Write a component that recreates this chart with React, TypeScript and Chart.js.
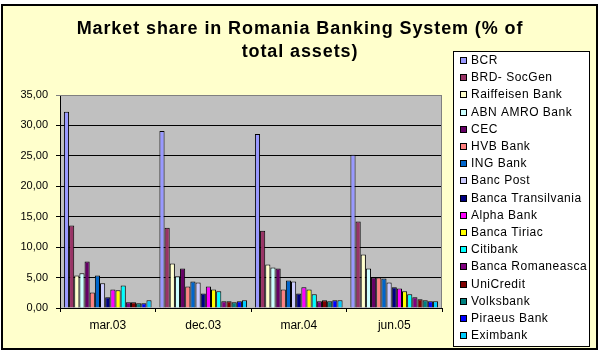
import React, { useEffect, useRef } from "react";
import { Chart, registerables } from "chart.js";

Chart.register(...registerables);

const CATEGORIES = ["mar.03", "dec.03", "mar.04", "jun.05"];
const BANKS = [
  "BCR",
  "BRD- SocGen",
  "Raiffeisen Bank",
  "ABN AMRO Bank",
  "CEC",
  "HVB Bank",
  "ING Bank",
  "Banc Post",
  "Banca Transilvania",
  "Alpha Bank",
  "Banca Tiriac",
  "Citibank",
  "Banca Romaneasca",
  "UniCredit",
  "Volksbank",
  "Piraeus Bank",
  "Eximbank",
];
const COLORS = [
  "#9999FF", "#993366", "#FFFFCC", "#CCFFFF", "#660066", "#FF8080", "#0066CC", "#CCCCFF",
  "#000080", "#FF00FF", "#FFFF00", "#00FFFF", "#800080", "#800000", "#008080", "#0000FF", "#00CCFF",
];
const MAR03 = [32.25, 13.55, 5.35, 5.7, 7.65, 2.55, 5.35, 4.05, 1.75, 3.05, 2.9, 3.7, 0.93, 0.93, 0.77, 0.77, 1.26];
const DEC03 = [29.1, 13.2, 7.3, 5.2, 6.5, 3.55, 4.35, 4.2, 2.4, 3.55, 3.05, 2.75, 1.1, 1.1, 0.93, 1.1, 1.26];
const MAR04 = [28.6, 12.7, 7.15, 6.65, 6.5, 3.05, 4.5, 4.35, 2.4, 3.4, 3.05, 2.25, 1.1, 1.26, 1.1, 1.26, 1.26];
const JUN05 = [25.2, 14.2, 8.8, 6.5, 5.0, 5.0, 4.85, 4.2, 3.4, 3.2, 2.75, 2.25, 1.75, 1.43, 1.26, 1.1, 1.1];
const PERIODS = [MAR03, DEC03, MAR04, JUN05];
const TITLE_LINES = ["Market share in Romania Banking System (% of", "total assets)"];
const Y_MIN = 0;
const Y_MAX = 35;
const Y_STEP = 5;

const FONT = "'Liberation Sans', Arial, sans-serif";

const decor = {
  id: "decor",
  beforeDraw(chart: any) {
    const { ctx, chartArea: a, width, height } = chart;
    ctx.save();
    ctx.fillStyle = "#FFFFFF";
    ctx.fillRect(0, 0, width, height);
    ctx.fillStyle = "#FFFFCC";
    ctx.fillRect(2, 5, 595, 344);
    ctx.fillStyle = "#C0C0C0";
    ctx.fillRect(a.left, a.top, a.right - a.left, a.bottom - a.top);
    ctx.restore();
  },
  afterDraw(chart: any) {
    const { ctx, chartArea: a } = chart;
    ctx.save();
    // plot area top/right border
    ctx.strokeStyle = "#808080";
    ctx.lineWidth = 1;
    ctx.beginPath();
    ctx.moveTo(a.left, a.top + 0.5);
    ctx.lineTo(a.right - 0.5, a.top + 0.5);
    ctx.lineTo(a.right - 0.5, a.bottom);
    ctx.stroke();
    // title
    ctx.fillStyle = "#000";
    ctx.font = `bold 18px ${FONT}`;
    ctx.textAlign = "center";
    ctx.textBaseline = "alphabetic";
    try { (ctx as any).letterSpacing = "0.9px"; } catch (e) {}
    TITLE_LINES.forEach((t, i) => ctx.fillText(t, 300, 34 + i * 23));
    // legend
    ctx.fillStyle = "#FFFFFF";
    ctx.fillRect(453, 51, 136, 295);
    ctx.strokeStyle = "#000";
    ctx.strokeRect(453.5, 51.5, 136, 295);
    ctx.font = `12px ${FONT}`;
    try { (ctx as any).letterSpacing = "0.5px"; } catch (e) {}
    ctx.textAlign = "left";
    ctx.textBaseline = "middle";
    chart.data.datasets.forEach((ds: any, i: number) => {
      const yc = Math.round(60 + i * 17.2);
      ctx.fillStyle = ds.backgroundColor;
      ctx.fillRect(460, yc - 3, 7, 7);
      ctx.strokeStyle = "#000";
      ctx.strokeRect(460.5, yc - 2.5, 6, 6);
      ctx.fillStyle = "#000";
      ctx.fillText(ds.label, 471, yc + 1);
    });
    try { (ctx as any).letterSpacing = "0px"; } catch (e) {}
    // outer border
    ctx.strokeStyle = "#000";
    ctx.lineWidth = 2;
    ctx.strokeRect(2, 5, 595, 344);
    ctx.restore();
  },
};

export default function App() {
  const ref = useRef<HTMLCanvasElement>(null);
  useEffect(() => {
    document.body.style.margin = "0";
    const datasets = BANKS.map((name, i) => ({
      label: name,
      data: PERIODS.map((p) => p[i]),
      backgroundColor: COLORS[i],
      borderColor: "#000",
      borderWidth: 1,
      categoryPercentage: 0.918,
      barPercentage: 1,
    }));
    const chart = new Chart(ref.current!, {
      type: "bar",
      data: { labels: CATEGORIES, datasets },
      plugins: [decor],
      options: {
        responsive: false,
        animation: false,
        layout: { padding: { top: 95, right: 158, left: 0, bottom: 0 } },
        plugins: { legend: { display: false }, title: { display: false }, tooltip: { enabled: false } },
        scales: {
          y: {
            min: Y_MIN,
            max: Y_MAX,
            ticks: {
              stepSize: Y_STEP,
              color: "#000",
              font: { family: FONT, size: 11 },
              padding: 8,
              callback: (v: any) => Number(v).toFixed(2).replace(".", ","),
            },
            grid: {
              color: (c: any) => (c.tick && c.tick.value === Y_MAX ? "#808080" : "#000"),
              lineWidth: 1,
              tickLength: 4,
              drawTicks: true,
            },
            border: { color: "#000", width: 1 },
            afterFit: (s: any) => {
              s.width = 60;
            },
          },
          x: {
            ticks: { color: "#000", font: { family: FONT, size: 12 }, padding: 6 },
            grid: { drawOnChartArea: false, drawTicks: true, tickLength: 4, color: "#000", offset: true },
            border: { color: "#000", width: 1 },
            afterFit: (s: any) => {
              s.height = 45;
            },
          },
        },
      } as any,
    });
    return () => chart.destroy();
  }, []);
  return (
    <div style={{ width: 600, height: 353 }}>
      <canvas ref={ref} width={600} height={353} style={{ display: "block" }} />
    </div>
  );
}
